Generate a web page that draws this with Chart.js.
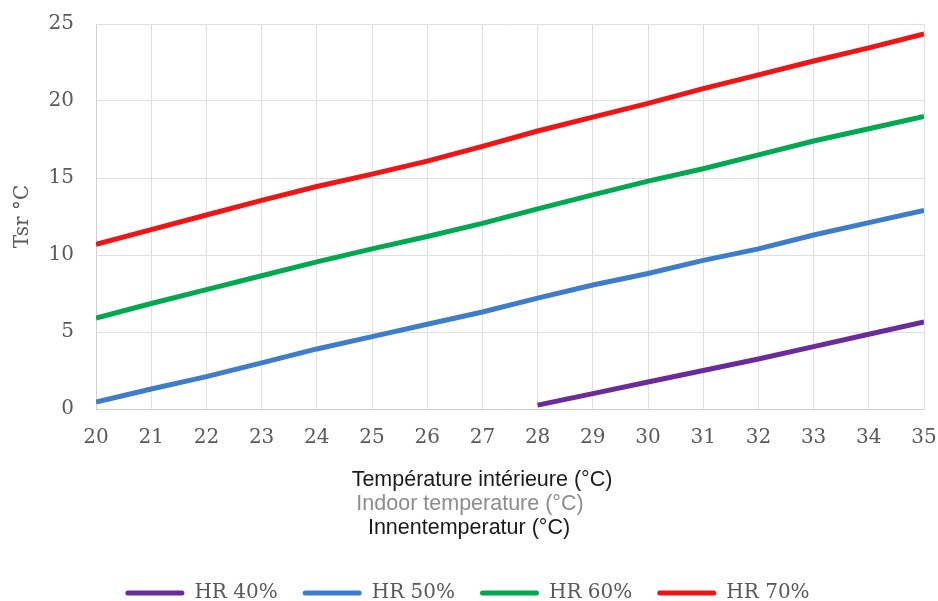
<!DOCTYPE html>
<html>
<head>
<meta charset="utf-8">
<script src="https://cdn.jsdelivr.net/npm/chart.js@4"></script>
<style>
  html, body { margin: 0; padding: 0; background: #fff; }
  #wrap { width: 938px; height: 601px; }
</style>
</head>
<body>
<div id="wrap"><canvas id="tsrChart" width="938" height="601"></canvas></div>
<script>
// ====== DATA ======
const temps = [20, 21, 22, 23, 24, 25, 26, 27, 28, 29, 30, 31, 32, 33, 34, 35];
const hr40 = [null, null, null, null, null, null, null, null, 0.25, 1.0, 1.75, 2.5, 3.25, 4.05, 4.85, 5.65];
const hr50 = [0.45, 1.3, 2.1, 3.0, 3.9, 4.7, 5.5, 6.3, 7.2, 8.05, 8.8, 9.65, 10.4, 11.3, 12.1, 12.9];
const hr60 = [5.9, 6.85, 7.75, 8.65, 9.55, 10.4, 11.2, 12.05, 13.0, 13.9, 14.8, 15.6, 16.5, 17.4, 18.2, 19.0];
const hr70 = [10.7, 11.65, 12.6, 13.55, 14.45, 15.25, 16.1, 17.05, 18.05, 18.95, 19.85, 20.8, 21.7, 22.6, 23.45, 24.35];
const seriesNames = ['HR 40%', 'HR 50%', 'HR 60%', 'HR 70%'];
const xTitleLines = ['Température intérieure (°C)', 'Indoor temperature (°C)', 'Innentemperatur (°C)'];
const yTitle = 'Tsr °C';

const colors = ['#6A2C9A', '#3D7DCB', '#00A84F', '#F01414'];
const serif = "'DejaVu Serif', 'Liberation Serif', serif";

function toPoints(values) {
    return temps.map((t, i) => ({ x: t, y: values[i] }));
}

// ====== X TITLE (three lines, middle one grey) ======
const xTitlePlugin = {
    id: 'xTitle',
    afterDraw(chart) {
        const ctx = chart.ctx;
        const area = chart.chartArea;
        const lineColors = ['#1a1a1a', '#8c8c8c', '#1a1a1a'];
        const centers = [482, 470, 469];
        ctx.save();
        ctx.font = "21.5px 'Liberation Sans', Arial, sans-serif";
        ctx.textAlign = 'center';
        ctx.textBaseline = 'middle';
        xTitleLines.forEach((line, i) => {
            ctx.fillStyle = lineColors[i];
            ctx.fillText(line, centers[i], area.bottom + 71 + i * 24);
        });
        ctx.restore();
    }
};

const ctx = document.getElementById('tsrChart').getContext('2d');
const chart = new Chart(ctx, {
    type: 'line',
    data: {
        datasets: [hr40, hr50, hr60, hr70].map((vals, i) => ({
            label: seriesNames[i],
            data: toPoints(vals),
            borderColor: colors[i],
            backgroundColor: colors[i],
            borderWidth: 5,
            pointRadius: 0,
            pointHoverRadius: 0,
            pointBorderWidth: 0,
            tension: 0,
            spanGaps: false
        }))
    },
    options: {
        responsive: false,
        animation: false,
        layout: { autoPadding: false, padding: { left: 11, right: 14, top: 24, bottom: -12 } },
        scales: {
            x: {
                type: 'linear',
                min: 20,
                max: 35,
                ticks: { stepSize: 1, color: '#595959', font: { family: serif, size: 20 }, padding: 17 },
                grid: { color: '#e0e0e0', drawTicks: false },
                border: { color: '#d0d0d0' },
                title: {
                    display: true,
                    text: xTitleLines,
                    color: 'rgba(0,0,0,0)',
                    font: { size: 20 },
                    padding: { top: 12, bottom: 7 }
                },
                afterFit(scale) {
                    scale.paddingLeft = 0;
                    scale.paddingRight = 0;
                }
            },
            y: {
                min: 0,
                max: 25,
                ticks: { stepSize: 5, color: '#595959', font: { family: serif, size: 20 }, padding: 22 },
                grid: { color: '#e0e0e0', drawTicks: false },
                border: { color: '#d0d0d0' },
                title: {
                    display: true,
                    text: yTitle,
                    color: '#595959',
                    font: { family: serif, size: 20 },
                    padding: { top: 0, bottom: 0 }
                },
                afterFit(scale) {
                    scale.width = 85;
                    scale.paddingTop = 0;
                    scale.paddingBottom = 0;
                }
            }
        },
        plugins: {
            legend: {
                position: 'bottom',
                labels: {
                    boxWidth: 59,
                    boxHeight: 5,
                    padding: 25,
                    color: '#595959',
                    font: { family: serif, size: 20 },
                    useBorderRadius: true,
                    borderRadius: 2.5,
                    generateLabels(chart) {
                        const items = Chart.defaults.plugins.legend.labels.generateLabels(chart);
                        items.forEach(item => { item.lineWidth = 0; });
                        return items;
                    }
                }
            },
            tooltip: { enabled: false }
        }
    },
    plugins: [xTitlePlugin]
});
</script>
</body>
</html>
